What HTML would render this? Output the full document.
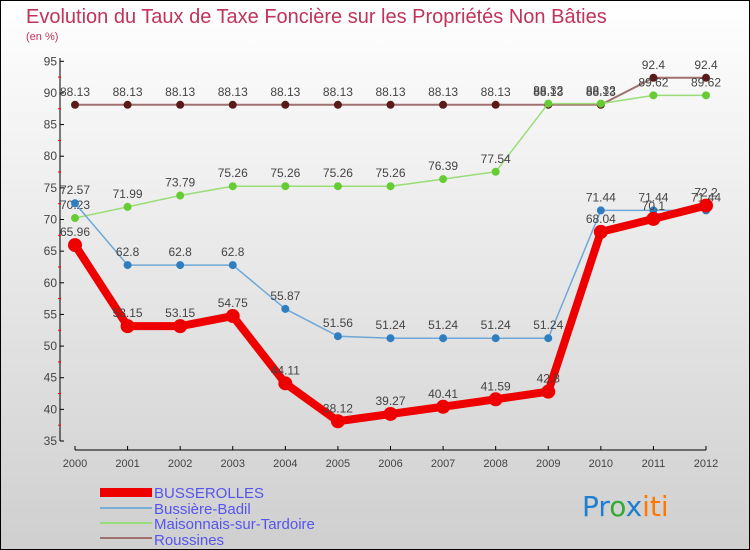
<!DOCTYPE html>
<html><head><meta charset="utf-8"><style>
body{margin:0;width:750px;height:550px;overflow:hidden}
svg{display:block;font-family:"Liberation Sans","DejaVu Sans",sans-serif}
</style></head><body>
<svg id="c" width="750" height="550">
<defs><linearGradient id="bg" x1="0" y1="0" x2="0" y2="1"><stop offset="0" stop-color="#ffffff"/><stop offset="1" stop-color="#cfcfcf"/></linearGradient></defs>
<rect x="0.5" y="0.5" width="749" height="549" fill="url(#bg)" stroke="#000"/>
<text x="26" y="23" font-size="20" fill="#c0335a">Evolution du Taux de Taxe Foncière sur les Propriétés Non Bâties</text>
<text x="26" y="40" font-size="11" fill="#c0335a">(en %)</text>
<g id="axes"></g><g id="series"></g>
<g>
<rect x="100" y="488" width="52" height="9" fill="#ee0000"/>
<text x="154" y="498" font-size="15" fill="#5555ee">BUSSEROLLES</text>
<rect x="100" y="507" width="52" height="2" fill="#7aaed6"/>
<text x="154" y="514" font-size="15" fill="#5555ee">Bussière-Badil</text>
<rect x="100" y="522" width="52" height="2" fill="#99dd77"/>
<text x="154" y="529" font-size="15" fill="#5555ee">Maisonnais-sur-Tardoire</text>
<rect x="100" y="537" width="52" height="2" fill="#a07070"/>
<text x="154" y="545" font-size="15" fill="#5555ee">Roussines</text>
</g>
<g font-size="28" font-family="'DejaVu Sans',sans-serif">
<text x="582" y="516"><tspan fill="#1e7fd0">Pr</tspan><tspan fill="#33aa33">o</tspan><tspan fill="#1e7fd0">x</tspan><tspan fill="#ff7700">iti</tspan></text>
</g>
</svg>
<script>
const years=["2000","2001","2002","2003","2004","2005","2006","2007","2008","2009","2010","2011","2012"];
const yTicks=[35,40,45,50,55,60,65,70,75,80,85,90,95];
const busserolles=[65.96,53.15,53.15,54.75,44.11,38.12,39.27,40.41,41.59,42.8,68.04,70.1,72.2];
const bussiere=[72.57,62.8,62.8,62.8,55.87,51.56,51.24,51.24,51.24,51.24,71.44,71.44,71.44];
const maisonnais=[70.23,71.99,73.79,75.26,75.26,75.26,75.26,76.39,77.54,88.32,88.32,89.62,89.62];
const roussines=[88.13,88.13,88.13,88.13,88.13,88.13,88.13,88.13,88.13,88.13,88.13,92.4,92.4];
const NS="http://www.w3.org/2000/svg";
const X=i=>75+i*(706-75)/12;
const Y=v=>441-(v-35)*(441-61.3)/60;
function mk(t,a,p){const e=document.createElementNS(NS,t);for(const k in a)e.setAttribute(k,a[k]);p.appendChild(e);return e;}
const ax=document.getElementById('axes');
mk('line',{x1:60,y1:58,x2:60,y2:441,stroke:'#000'},ax);
mk('line',{x1:75,y1:450,x2:706,y2:450,stroke:'#000'},ax);
yTicks.forEach(v=>{
 mk('line',{x1:60,y1:Y(v),x2:64,y2:Y(v),stroke:'#000'},ax);
 if(v<95)mk('line',{x1:58,y1:Y(v+2.5),x2:61,y2:Y(v+2.5),stroke:'#f00'},ax);
 const t=mk('text',{x:57,y:Y(v)+4,'font-size':12,fill:'#444','text-anchor':'end'},ax);t.textContent=v;
 
 
});
years.forEach((y,i)=>{
 mk('line',{x1:X(i),y1:446,x2:X(i),y2:450,stroke:'#000'},ax);
 const t=mk('text',{x:X(i),y:467,'font-size':11,fill:'#444','text-anchor':'middle'},ax);t.textContent=y;
 
 
});
const sg=document.getElementById('series');
function series(d,name,col,dot,w,r){
 const g=mk('g',{},sg);
 
 
 mk('polyline',{points:d.map((v,i)=>X(i)+','+Y(v)).join(' '),fill:'none',stroke:col,'stroke-width':w,'stroke-linejoin':'round'},g);
 d.forEach((v,i)=>{
  const c=mk('circle',{cx:X(i),cy:Y(v),r:r,fill:dot},g);
  
  
  const t=mk('text',{x:X(i),y:Y(v)-9,'font-size':12,fill:'#444','text-anchor':'middle'},g);t.textContent=v;
  
  
 });
}
series(roussines,'roussines','#a07070','#5a1a1a',2,4);
series(maisonnais,'maisonnais','#99dd77','#66cc33',1.5,4);
series(bussiere,'bussiere','#6fa8d8','#2f7fc0',1.5,4);
series(busserolles,'busserolles','#ee0000','#ee0000',8,7);
</script>
</body></html>
